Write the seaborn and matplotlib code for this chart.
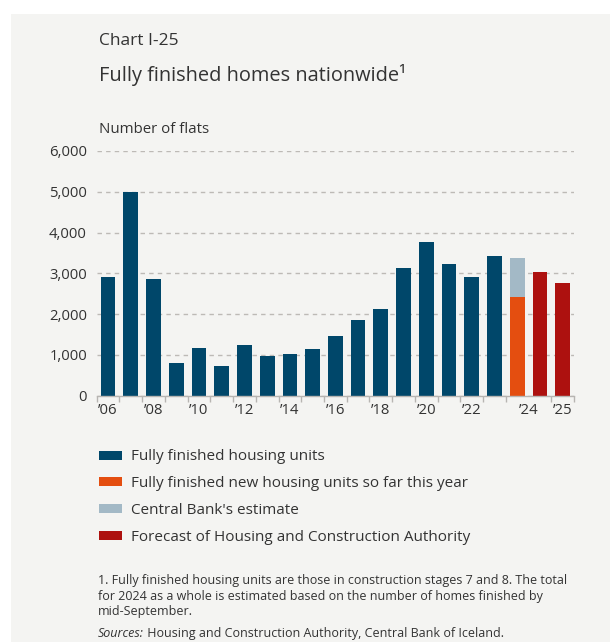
import matplotlib
matplotlib.use("Agg")
import matplotlib.pyplot as plt
from matplotlib.patches import Patch, Rectangle
from matplotlib.ticker import FuncFormatter, FixedLocator, NullFormatter
import pandas as pd
import seaborn as sns

# ---- data -------------------------------------------------------------
hist_years = ["2006", "2007", "2008", "2009", "2010", "2011", "2012", "2013", "2014",
              "2015", "2016", "2017", "2018", "2019", "2020", "2021", "2022", "2023"]
finished_units = [2910, 5000, 2860, 800, 1170, 730, 1240, 970, 1020,
                  1140, 1460, 1860, 2130, 3130, 3770, 3230, 2910, 3430]
estimate_slot = ["2024 estimate"]
so_far_2024 = [2420]
estimate_2024 = [3380]
forecast_slots = ["2024 forecast", "2025 forecast"]
forecast_units = [3030, 2760]
slots = hist_years + estimate_slot + forecast_slots
tick_labels = ["\u201906", "\u201908", "\u201910", "\u201912", "\u201914", "\u201916",
               "\u201918", "\u201920", "\u201922", "\u201924", "\u201925"]
series_labels = ["Fully finished housing units",
                 "Fully finished new housing units so far this year",
                 "Central Bank's estimate",
                 "Forecast of Housing and Construction Authority"]

# ---- style ------------------------------------------------------------
DARK_BLUE = "#00476a"
ORANGE = "#e44e10"
LIGHT_BLUE = "#a3b9c6"
RED = "#ad110f"
PANEL = "#f4f4f2"
TEXT = "#333333"
AXIS_GREY = "#b7b5b2"
GRID_GREY = "#bdbab6"

sns.set_style("white")
plt.rcParams["font.family"] = ["Open Sans", "DejaVu Sans"]
plt.rcParams["text.color"] = TEXT
plt.rcParams["xtick.color"] = AXIS_GREY
plt.rcParams["ytick.color"] = TEXT
plt.rcParams["xtick.labelcolor"] = TEXT
plt.rcParams["ytick.labelcolor"] = TEXT

W, H = 610, 642
fig = plt.figure(figsize=(W / 100, H / 100), dpi=100)
fig.patch.set_facecolor("white")
fig.patches.append(Rectangle((11 / W, 0), 1, 1 - 14 / H, transform=fig.transFigure,
                             facecolor=PANEL, edgecolor="none", zorder=-10))

ax = fig.add_axes([96.7 / W, 1 - 395.7 / H, (574 - 96.7) / W, (395.7 - 151) / H])
ax.set_facecolor("none")


def draw(slot_names, values, color):
    df = pd.DataFrame({"slot": slot_names, "units": values})
    sns.barplot(data=df, x="slot", y="units", order=slots, color=color,
                saturation=1, width=0.65, errorbar=None, linewidth=0, ax=ax)


# the 2024 estimate is the full-year total, the orange part is drawn over it
draw(hist_years, finished_units, DARK_BLUE)
draw(estimate_slot, estimate_2024, LIGHT_BLUE)
draw(estimate_slot, so_far_2024, ORANGE)
draw(forecast_slots, forecast_units, RED)

ax.set_xlim(-0.5, len(slots) - 0.5)
ax.set_ylim(0, 6000)
ax.set_xlabel("")
ax.set_ylabel("")

# y axis
ax.set_yticks(range(0, 7000, 1000))
ax.yaxis.set_major_formatter(FuncFormatter(lambda v, _: f"{int(v):,}"))
ax.tick_params(axis="y", length=0, pad=7, labelsize=10.7)
ax.yaxis.grid(True, linestyle=(0, (3.2, 3)), color=GRID_GREY, linewidth=1.0)
ax.set_axisbelow(True)

# x axis: tick marks on category boundaries, labels in between
n_hist = len(hist_years)
boundaries = [i - 0.5 for i in range(n_hist + 1)] + [len(slots) - 1.5, len(slots) - 0.5]
label_pos = [slots.index(y) for y in hist_years[::2]]
label_pos += [(slots.index(estimate_slot[0]) + slots.index(forecast_slots[0])) / 2,
              slots.index(forecast_slots[1])]
ax.xaxis.set_major_locator(FixedLocator(boundaries))
ax.xaxis.set_major_formatter(NullFormatter())
ax.xaxis.set_minor_locator(FixedLocator(label_pos))
ax.set_xticklabels(tick_labels, minor=True)
ax.tick_params(axis="x", which="major", direction="out", length=4, width=1.0,
               color=AXIS_GREY, bottom=True)
ax.tick_params(axis="x", which="minor", length=0, pad=5, labelsize=10.7)

for side in ("top", "right", "left"):
    ax.spines[side].set_visible(False)
ax.spines["bottom"].set_color(AXIS_GREY)
ax.spines["bottom"].set_linewidth(1.0)
ax.spines["bottom"].set_zorder(3)

# ---- titles -----------------------------------------------------------
fig.text(99 / W, 1 - 45 / H, "Chart I-25", fontsize=12.5, va="baseline", ha="left")
fig.text(99 / W, 1 - 80.7 / H, "Fully finished homes nationwide\u00b9", fontsize=14.4,
         va="baseline", ha="left")
fig.text(99 / W, 1 - 132.7 / H, "Number of flats", fontsize=10.8, va="baseline", ha="left")

# ---- legend -----------------------------------------------------------
handles = [Patch(facecolor=c, edgecolor="none") for c in (DARK_BLUE, ORANGE, LIGHT_BLUE, RED)]
fig.legend(handles, series_labels, loc="upper left", bbox_to_anchor=(99 / W, 1 - 449.5 / H),
           frameon=False, fontsize=11, handlelength=1.5, handleheight=0.52,
           handletextpad=0.62, labelspacing=0.77, borderpad=0, borderaxespad=0)

# ---- notes ------------------------------------------------------------
note_lines = ["1. Fully finished housing units are those in construction stages 7 and 8. The total",
              "for 2024 as a whole is estimated based on the number of homes finished by",
              "mid-September."]
for line, base in zip(note_lines, (584, 600, 615.5)):
    fig.text(98 / W, 1 - base / H, line, fontsize=9, va="baseline", ha="left")
src = fig.text(98 / W, 1 - 637 / H, "Sources:", fontsize=9, style="italic",
               va="baseline", ha="left")
fig.canvas.draw()
bb = src.get_window_extent(renderer=fig.canvas.get_renderer())
fig.text(bb.x1 / W, 1 - 637 / H, " Housing and Construction Authority, Central Bank of Iceland.",
         fontsize=9, va="baseline", ha="left")

fig.savefig("out.png", dpi=100)
